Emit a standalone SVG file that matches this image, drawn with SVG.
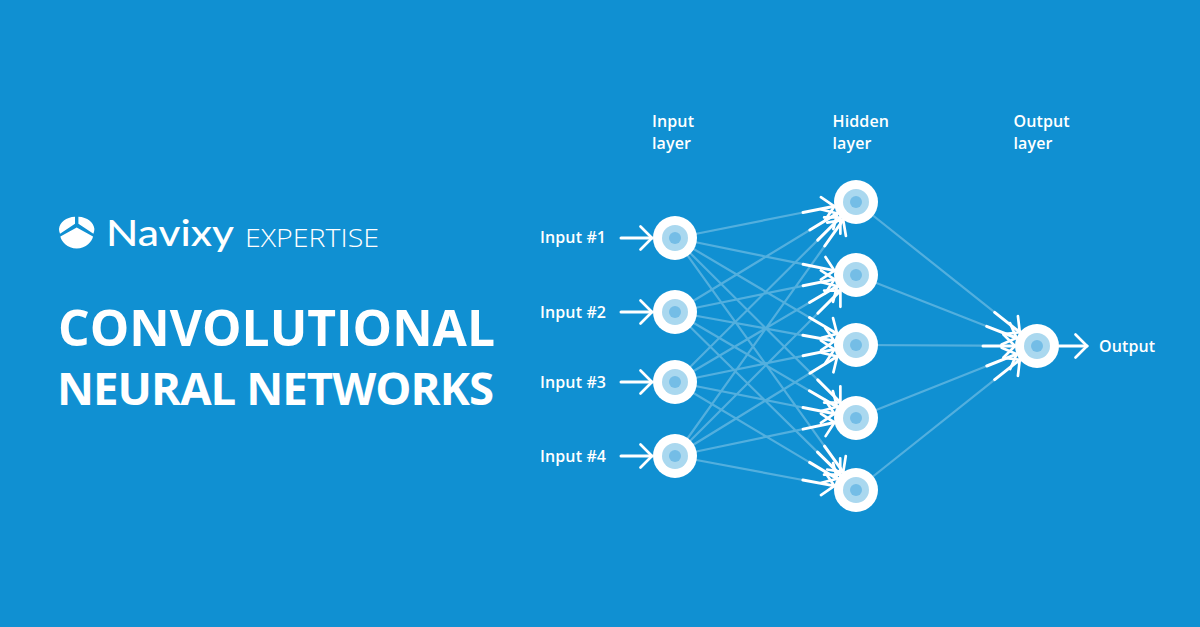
<svg xmlns="http://www.w3.org/2000/svg" width="1200" height="627" viewBox="0 0 1200 627">
<style>
text{fill:#fff;font-family:"Open Sans","Liberation Sans",sans-serif}
.lb{font-size:16px;font-weight:600;letter-spacing:.12px}
.t{font-weight:700}
.l{stroke:#fff;stroke-opacity:.28;stroke-width:2.2;fill:none}
.a{stroke:#fff;stroke-width:3;fill:none;marker-end:url(#h);stroke-linecap:round}
.o{fill:#fff}.m{fill:#aad8ef}.c{fill:#74bde6}
</style>
<defs>
<marker id="h" markerUnits="userSpaceOnUse" markerWidth="30" markerHeight="30" refX="15" refY="15" orient="auto" overflow="visible"><path d="M3.500 3.500L15 15L3.500 26.500" fill="none" stroke="#fff" stroke-width="2.700" stroke-linecap="round"/></marker>
<g id="node"><circle class="o" r="22"/><circle class="m" r="13"/><circle class="c" r="6"/></g>
</defs>
<rect width="1200" height="627" fill="#1090d2"/>
<g id="logo">
<path fill="#fff" d="M75 216.800V223.700L60 233.800C59.300 232 59 230.500 59 229C59.800 222.500 66 217.200 75 216.800ZM78.400 216.800C87.400 217.200 93.600 222.500 94.400 229C94.400 230.500 94.100 232 93.400 233.800L78.400 223.700ZM76.700 227.500L93 236.500C92.500 241 86 248.500 76.700 248.500C67.400 248.500 60.900 241 60.400 236.500Z"/>
<text x="106" y="245.500" font-size="36" font-weight="500" style="font-family:Lato,'Open Sans',sans-serif" textLength="128" lengthAdjust="spacingAndGlyphs">Navixy</text>
<text x="245" y="246.500" font-size="26" font-weight="300" textLength="134" lengthAdjust="spacingAndGlyphs">EXPERTISE</text>
</g>
<g id="title">
<text class="t" x="58" y="346" font-size="50" textLength="437" lengthAdjust="spacingAndGlyphs">CONVOLUTIONAL</text>
<text class="t" x="57" y="405" font-size="45.500" textLength="437" lengthAdjust="spacing">NEURAL NETWORKS</text>
</g>
<g id="connectors">
<g class="lines">
<path class="l" d="M675 238L803 212.500M675 312L809.800 230M675 382L817.700 240.100M675 456L824.700 246M675 238L803.100 264.200M675 312L803.100 285.800M675 382L809.500 302.500M675 456L817.800 313.200M675 238L809.500 317.500M675 312L802.900 335.300M675 382L803.100 355.800M675 456L809.900 373.200M675 238L817.700 379.900M675 312L809.400 390.700M675 382L803 407.500M675 456L803.100 429.100M675 238L824.500 446.200M675 312L817.500 452.100M675 382L809.600 462.400M675 456L802.900 480M856 202L994.700 312.400M856 275L986.700 326.300M856 345L983 345.700M856 418L986.800 366M856 490L994.700 379.600"/>
</g>
<g class="arrows">
<line class="a" x1="803" y1="212.500" x2="834.400" y2="206.300"/>
<line class="a" x1="809.800" y1="230" x2="837.200" y2="213.400"/>
<line class="a" x1="817.700" y1="240.100" x2="840.400" y2="217.500"/>
<line class="a" x1="824.700" y1="246" x2="843.200" y2="219.900"/>
<line class="a" x1="803.100" y1="264.200" x2="834.400" y2="270.600"/>
<line class="a" x1="803.100" y1="285.800" x2="834.400" y2="279.400"/>
<line class="a" x1="809.500" y1="302.500" x2="837.100" y2="286.200"/>
<line class="a" x1="817.800" y1="313.200" x2="840.400" y2="290.600"/>
<line class="a" x1="809.500" y1="317.500" x2="837.100" y2="333.800"/>
<line class="a" x1="802.900" y1="335.300" x2="834.400" y2="341.100"/>
<line class="a" x1="803.100" y1="355.800" x2="834.400" y2="349.400"/>
<line class="a" x1="809.900" y1="373.200" x2="837.200" y2="356.500"/>
<line class="a" x1="817.700" y1="379.900" x2="840.400" y2="402.500"/>
<line class="a" x1="809.400" y1="390.700" x2="837" y2="406.900"/>
<line class="a" x1="803" y1="407.500" x2="834.400" y2="413.700"/>
<line class="a" x1="803.100" y1="429.100" x2="834.500" y2="422.500"/>
<line class="a" x1="824.500" y1="446.200" x2="843.200" y2="472.100"/>
<line class="a" x1="817.500" y1="452.100" x2="840.300" y2="474.600"/>
<line class="a" x1="809.600" y1="462.400" x2="837.100" y2="478.700"/>
<line class="a" x1="802.900" y1="480" x2="834.400" y2="485.900"/>
<line class="a" x1="994.700" y1="312.400" x2="1019.800" y2="332.300"/>
<line class="a" x1="986.700" y1="326.300" x2="1016.500" y2="338"/>
<line class="a" x1="983" y1="346" x2="1015" y2="346"/>
<line class="a" x1="986.800" y1="366" x2="1016.600" y2="354.100"/>
<line class="a" x1="994.700" y1="379.600" x2="1019.800" y2="359.700"/>
<line class="a" x1="621" y1="238" x2="652" y2="238"/>
<line class="a" x1="621" y1="312" x2="652" y2="312"/>
<line class="a" x1="621" y1="382" x2="652" y2="382"/>
<line class="a" x1="621" y1="456" x2="652" y2="456"/>
<line class="a" x1="1059" y1="346" x2="1087" y2="346"/>
</g>
</g>
<g id="input-1"><use href="#node" x="675" y="238"/><text class="lb" x="540" y="243">Input #1</text></g>
<g id="input-2"><use href="#node" x="675" y="312"/><text class="lb" x="540" y="318">Input #2</text></g>
<g id="input-3"><use href="#node" x="675" y="382"/><text class="lb" x="540" y="388">Input #3</text></g>
<g id="input-4"><use href="#node" x="675" y="456"/><text class="lb" x="540" y="462">Input #4</text></g>
<g id="hidden-1"><use href="#node" x="856" y="202"/></g>
<g id="hidden-2"><use href="#node" x="856" y="275"/></g>
<g id="hidden-3"><use href="#node" x="856" y="345"/></g>
<g id="hidden-4"><use href="#node" x="856" y="418"/></g>
<g id="hidden-5"><use href="#node" x="856" y="490"/></g>
<g id="output"><use href="#node" x="1037" y="346"/><text class="lb" x="1099" y="352">Output</text></g>
<g id="layer-labels">
<text class="lb" x="652" y="127">Input</text><text class="lb" x="652" y="149">layer</text>
<text class="lb" x="832.500" y="127">Hidden</text><text class="lb" x="832.500" y="149">layer</text>
<text class="lb" x="1013.500" y="127">Output</text><text class="lb" x="1013.500" y="149">layer</text>
</g>
</svg>
